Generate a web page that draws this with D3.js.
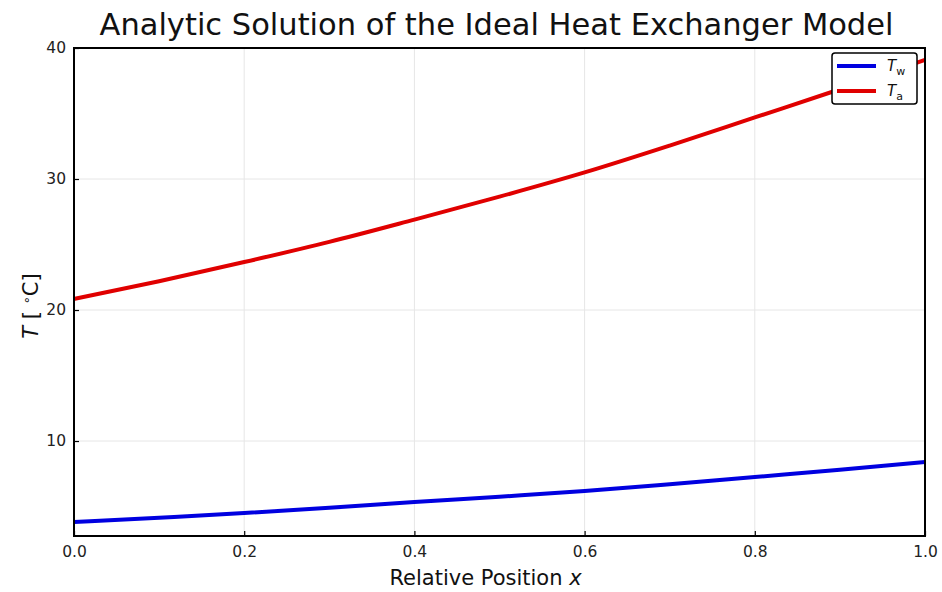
<!DOCTYPE html>
<html>
<head>
<meta charset="utf-8">
<script src="https://cdn.jsdelivr.net/npm/d3@7"></script>
<style>
  html, body { margin: 0; padding: 0; background: #fff; }
  svg { display: block; font-family: "DejaVu Sans", sans-serif; }
</style>
</head>
<body>
<svg id="chart" width="942" height="592"></svg>
<script>
// Relative position along the exchanger
const positions = [0.0, 0.1, 0.2, 0.3, 0.4, 0.5, 0.6, 0.7, 0.8, 0.9, 1.0];
// Water temperature T_w [°C]
const waterTemp = [3.82, 4.15, 4.50, 4.90, 5.34, 5.75, 6.18, 6.70, 7.25, 7.80, 8.40];
// Air temperature T_a [°C]
const airTemp = [20.85, 22.20, 23.66, 25.20, 26.90, 28.65, 30.50, 32.55, 34.70, 36.85, 39.10];

const xTicks = [0.0, 0.2, 0.4, 0.6, 0.8, 1.0];
const yTicks = [10, 20, 30, 40];
const seriesNames = ["w", "a"];
const seriesColors = ["#0000e0", "#e00000"];

const svg = d3.select("#chart");
const margin = { left: 74, right: 17, top: 48, bottom: 56 };
const W = 942, H = 592;

const x = d3.scaleLinear().domain([0, 1]).range([margin.left, W - margin.right]);
const y = d3.scaleLinear().domain([2.75, 40]).range([H - margin.bottom, margin.top]);

// Grid
const grid = svg.append("g").attr("stroke", "#e6e6e6").attr("stroke-width", 1);
grid.selectAll("line.gx").data(xTicks.slice(1, -1)).join("line")
  .attr("x1", d => x(d)).attr("x2", d => x(d))
  .attr("y1", y.range()[1]).attr("y2", y.range()[0]);
grid.selectAll("line.gy").data(yTicks.slice(0, -1)).join("line")
  .attr("x1", x.range()[0]).attr("x2", x.range()[1])
  .attr("y1", d => y(d)).attr("y2", d => y(d));

// Curves
const line = d3.line().curve(d3.curveMonotoneX);
const series = [waterTemp, airTemp];
series.forEach((vals, i) => {
  svg.append("path")
    .attr("d", line(vals.map((v, j) => [x(positions[j]), y(v)])))
    .attr("fill", "none")
    .attr("stroke", seriesColors[i])
    .attr("stroke-width", 4)
    .attr("stroke-linecap", "butt");
});

// Axes with inward ticks
const xAxis = d3.axisBottom(x).tickValues(xTicks).tickFormat(d3.format(".1f")).tickSize(-5).tickPadding(10);
const yAxis = d3.axisLeft(y).tickValues(yTicks).tickFormat(d3.format("d")).tickSize(-5).tickPadding(8);

const gx = svg.append("g").attr("transform", `translate(0,${y.range()[0]})`).call(xAxis);
const gy = svg.append("g").attr("transform", `translate(${x.range()[0]},0)`).call(yAxis);
[gx, gy].forEach(g => {
  g.select(".domain").remove();
  g.selectAll(".tick line").attr("stroke", "#000").attr("stroke-width", 1.2);
  g.selectAll(".tick text").attr("fill", "#222").style("font-size", "15.5px").style("font-family", "DejaVu Sans");
});

// Frame
svg.append("rect")
  .attr("x", x.range()[0]).attr("y", y.range()[1])
  .attr("width", x.range()[1] - x.range()[0])
  .attr("height", y.range()[0] - y.range()[1])
  .attr("fill", "none").attr("stroke", "#000").attr("stroke-width", 2);

// Title
svg.append("text")
  .attr("x", (x.range()[0] + x.range()[1]) / 2 - 3).attr("y", 35)
  .attr("text-anchor", "middle").attr("fill", "#111")
  .style("font-size", "30.5px")
  .text("Analytic Solution of the Ideal Heat Exchanger Model");

// X label
const xl = svg.append("text")
  .attr("x", (x.range()[0] + x.range()[1]) / 2 - 14).attr("y", 585)
  .attr("text-anchor", "middle").attr("fill", "#111")
  .style("font-size", "21px");
xl.append("tspan").text("Relative Position ");
xl.append("tspan").attr("font-style", "italic").text("x");

// Y label
const yl = svg.append("text")
  .attr("transform", `translate(38,${(y.range()[0] + y.range()[1]) / 2 + 14}) rotate(-90)`)
  .attr("text-anchor", "middle").attr("fill", "#111")
  .style("font-size", "21px");
yl.append("tspan").attr("font-style", "italic").text("T");
yl.append("tspan").text(" [ ");
yl.append("tspan").attr("dy", -7).style("font-size", "13px").text("∘");
yl.append("tspan").attr("dy", 7).text("C]");

// Legend
const lg = svg.append("g").attr("transform", "translate(832,53)");
lg.append("rect").attr("width", 85).attr("height", 51).attr("rx", 3)
  .attr("fill", "#fff").attr("stroke", "#000").attr("stroke-width", 1.5);
seriesNames.forEach((name, i) => {
  const cy = 13 + i * 25;
  lg.append("line").attr("x1", 5).attr("x2", 44).attr("y1", cy).attr("y2", cy)
    .attr("stroke", seriesColors[i]).attr("stroke-width", 4);
  const t = lg.append("text").attr("x", 55).attr("y", cy + 5).attr("fill", "#111")
    .style("font-size", "15px");
  t.append("tspan").attr("font-style", "italic").text("T");
  t.append("tspan").attr("dy", 4).style("font-size", "11px").text(name);
});
</script>
</body>
</html>
